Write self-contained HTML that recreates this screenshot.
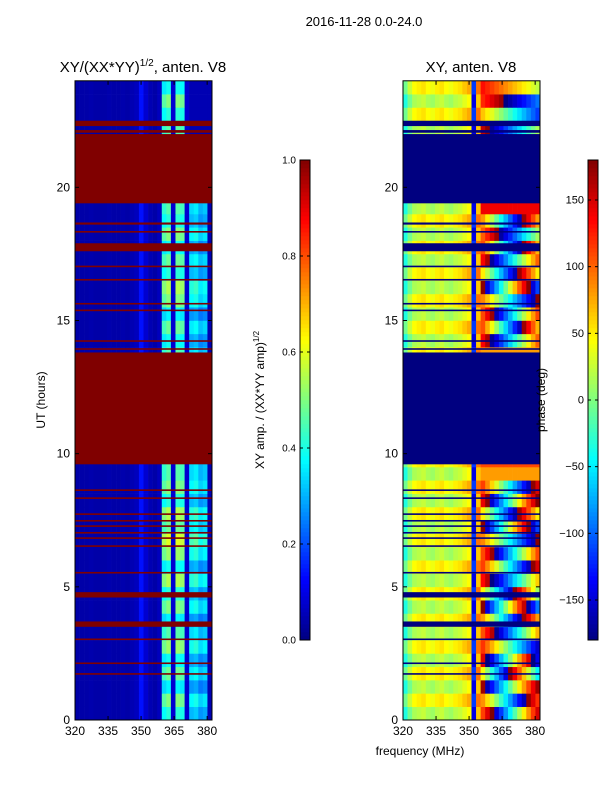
<!DOCTYPE html>
<html><head><meta charset="utf-8"><style>
body{margin:0;background:#fff;font-family:"Liberation Sans",sans-serif;}
svg text{font-family:"Liberation Sans","DejaVu Sans",sans-serif;}
</style></head><body>
<svg id="fig" width="600" height="800" viewBox="0 0 600 800" xmlns="http://www.w3.org/2000/svg">
<rect width="600" height="800" fill="#fff"/>
<text x="364" y="26" font-size="13" text-anchor="middle">2016-11-28 0.0-24.0</text>
<text x="143" y="72" font-size="15" text-anchor="middle">XY/(XX*YY)<tspan font-size="10" dy="-6">1/2</tspan><tspan dy="6">, anten. V8</tspan></text>
<text x="471" y="72" font-size="15" text-anchor="middle">XY, anten. V8</text>
<g id="left"></g>
<g id="right"></g>
<g id="axes"></g>
<text x="420" y="755" font-size="12" text-anchor="middle">frequency (MHz)</text>
<text x="45" y="400" font-size="12" text-anchor="middle" transform="rotate(-90 45 400)">UT (hours)</text>
<text x="264" y="400" font-size="12" text-anchor="middle" transform="rotate(-90 264 400)">XY amp. / (XX*YY amp)<tspan font-size="8" dy="-5">1/2</tspan></text>
<text x="545" y="400" font-size="12" text-anchor="middle" transform="rotate(-90 545 400)">phase (deg)</text>
</svg>
<script>
// ---- data ----
const freqMin = 320, freqMax = 382.2;
const nChan = 30;
const hourMax = 24;
const nRows = 48;
const xTicks = [320, 335, 350, 365, 380];
const yTicks = [0, 5, 10, 15, 20];
const ampTicks = [0.0, 0.2, 0.4, 0.6, 0.8, 1.0];
const phaseTicks = [-150, -100, -50, 0, 50, 100, 150];
// flagged intervals [start, end] in hours
const flagStart = [22.3, 22.05, 19.4, 18.6, 18.3, 17.6, 17.0, 16.5, 15.6, 15.35, 14.2, 13.9, 9.6, 8.6, 8.3, 7.7, 7.45, 7.25, 7.0, 6.8, 6.5, 5.5, 4.6, 3.5, 3.0, 2.1, 1.7];
const flagEnd   = [22.5, 22.15, 22.0, 18.68, 18.36, 17.9, 17.06, 16.56, 15.66, 15.41, 14.26, 13.96, 13.8, 8.66, 8.36, 7.76, 7.51, 7.31, 7.06, 6.86, 6.56, 5.56, 4.8, 3.7, 3.06, 2.16, 1.76];
// amplitude profile per channel
const ampProfile = [0.04,0.04,0.04,0.045,0.04,0.04,0.04,0.045,0.04,0.04,0.045,0.04,0.05,0.06,0.14,0.08,0.05,0.04,0.06,0.42,0.46,0.08,0.46,0.44,0.08,0.34,0.36,0.3,0.32,0.05];
// row modulation (0.5 h rows, from 0 h upward)
const ampRowMod = [0.9,1.1,0.8,1.05,0.85,1.15,1.0,0.8,1.1,0.9,1.2,0.85,1.15,1.3,1.05,1.2,0.9,1.1,1.0,1.0,1.0,1.0,1.0,1.0,1.0,1.0,1.0,1.0,0.85,1.05,0.8,1.1,1.2,0.9,1.05,0.85,1.1,0.9,1.0,1.0,1.0,1.0,1.0,1.0,1.0,0.9,1.1,0.85];
// phase base per channel (deg)
const phaseBase = [-20,10,30,35,40,30,25,35,40,30,25,35,40,50,60,-130,80,90,100,110,120,130,140,150,160,170,180,190,200,210];
// phase slope per row (deg per channel, right part)
const phaseSlope = [22,-18,20,-25,24,-15,18,-20,25,-22,16,-18,20,-15,24,-20,22,-18,0,0,0,0,0,0,0,0,0,0,18,-22,20,-15,24,-20,18,-22,15,-20,0,0,0,0,0,0,12,-10,8,-6];

// ---- helpers ----
function jet(v){v=Math.max(0,Math.min(1,v));
 const r=Math.max(0,Math.min(1,1.5-Math.abs(4*v-3)));
 const g=Math.max(0,Math.min(1,1.5-Math.abs(4*v-2)));
 const b=Math.max(0,Math.min(1,1.5-Math.abs(4*v-1)));
 return `rgb(${Math.round(r*255)},${Math.round(g*255)},${Math.round(b*255)})`;}
const NS="http://www.w3.org/2000/svg";
function mk(t,a,p){const e=document.createElementNS(NS,t);for(const k in a)e.setAttribute(k,a[k]);p.appendChild(e);return e;}
const yTop=80.8, bot=720, H=bot-yTop;
function yS(h){return bot-h/hourMax*H;}
function xS(x0,f){return x0+(f-freqMin)/(freqMax-freqMin)*137;}
const cw=137/nChan, rh=H/nRows;
function drawPanel(gid,x0,fn,flagColor){
 const g=document.getElementById(gid);
 for(let r=0;r<nRows;r++){
  const h=r*hourMax/nRows;
  for(let c=0;c<nChan;c++){
   const v=fn(r,c);
   const rc=mk('rect',{x:(x0+c*cw).toFixed(2),y:yS(h+hourMax/nRows).toFixed(2),width:(cw+0.3).toFixed(2),height:(rh+0.3).toFixed(2),fill:jet(v)},g);
   
   
  }
 }
 for(let i=0;i<flagStart.length;i++){
  const f=mk('rect',{x:x0,y:yS(flagEnd[i]).toFixed(2),width:137,height:Math.max(1.2,(flagEnd[i]-flagStart[i])/hourMax*H).toFixed(2),fill:flagColor},g);
  
  
 }
}
drawPanel('left',75,(r,c)=>{
 const h=r*hourMax/nRows;
 let p=ampProfile[c];
 if(h>19.4&&c>=25)p=0.05;
 return p>0.2?p*ampRowMod[r]:p;
},'rgb(128,0,0)');
drawPanel('right',403,(r,c)=>{
 let ph=phaseBase[c];
 if(c>=17)ph=phaseBase[16]+phaseSlope[r]*(c-16)*1.5+(r%3)*30;
 if(c<17)ph+=(r%2?15:-15);
 ph=((ph+180)%360+360)%360-180;
 return (ph+180)/360;
},'rgb(0,0,128)');

// axes
const ax=document.getElementById('axes');
[75,403].forEach((x0,pi)=>{
 const fr=mk('rect',{x:x0,y:yTop,width:137,height:H,fill:'none',stroke:'#000','stroke-width':1},ax);
 
 
 xTicks.forEach(t=>{const x=xS(x0,t);
  mk('line',{x1:x,y1:bot,x2:x,y2:bot-4,stroke:'#000'},ax);mk('line',{x1:x,y1:yTop,x2:x,y2:yTop+4,stroke:'#000'},ax);
  const tx=mk('text',{x:x,y:bot+15,'font-size':12,'text-anchor':'middle'},ax);tx.textContent=t;
  
  });
 yTicks.forEach(t=>{const y=yS(t);
  mk('line',{x1:x0,y1:y,x2:x0+4,y2:y,stroke:'#000'},ax);mk('line',{x1:x0+137,y1:y,x2:x0+133,y2:y,stroke:'#000'},ax);
  const tx=mk('text',{x:x0-5,y:y+4,'font-size':12,'text-anchor':'end'},ax);tx.textContent=t;
  
  });
});
// colorbars
function cbar(x,ticks,lo,hi,name,fmt){
 for(let i=0;i<120;i++){const r=mk('rect',{x:x,y:640-(i+1)*4,width:10,height:4.3,fill:jet((i+0.5)/120)},ax);
  
  }
 const f=mk('rect',{x:x,y:160,width:10,height:480,fill:'none',stroke:'#000'},ax);
 
 
 ticks.forEach(t=>{const y=640-(t-lo)/(hi-lo)*480;
  mk('line',{x1:x,y1:y,x2:x+3,y2:y,stroke:'#000'},ax);mk('line',{x1:x+10,y1:y,x2:x+7,y2:y,stroke:'#000'},ax);
  const tx=mk('text',{x:x-4,y:y+3.5,'font-size':name==='amp-colorbar'?10:11,'text-anchor':'end'},ax);tx.textContent=fmt(t);
  
  });
}
cbar(300,ampTicks,0,1,'amp-colorbar',t=>t.toFixed(1));
cbar(588,phaseTicks,-180,180,'phase-colorbar',t=>t<0?'\u2212'+(-t):String(t));
</script>
</body></html>
